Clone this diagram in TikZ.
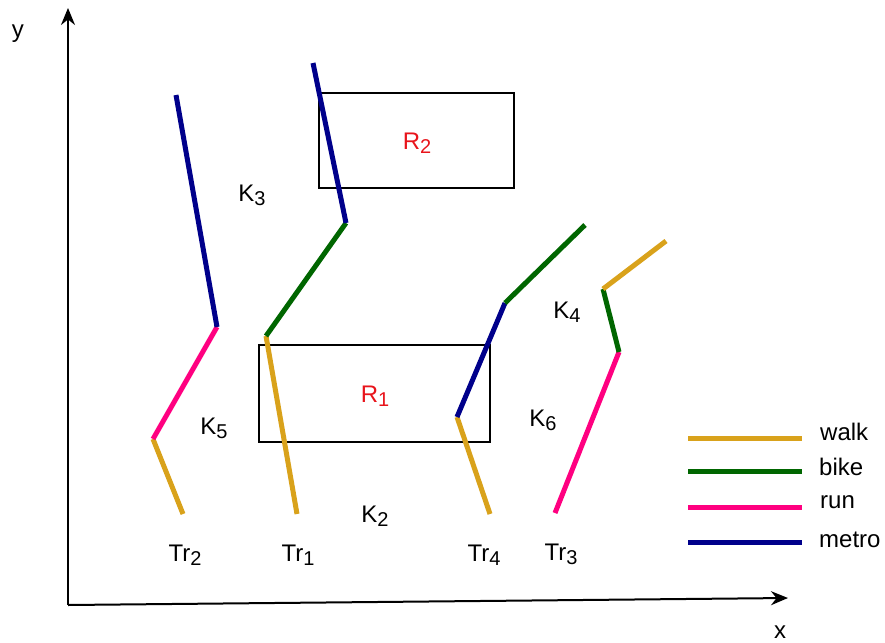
\documentclass[tikz,border=0pt]{standalone}
\usepackage{fontspec}
\setmainfont{Liberation Sans}
\usetikzlibrary{arrows.meta}
\definecolor{walkc}{HTML}{D9A21B}
\definecolor{bikec}{HTML}{006600}
\definecolor{runc}{HTML}{FF0080}
\definecolor{metroc}{HTML}{00008B}
\definecolor{regc}{HTML}{E8141B}
\newcommand\sbs[1]{\raisebox{-0.3ex}{\fontsize{20}{20}\selectfont #1}}
\begin{document}
\begin{tikzpicture}[x=1pt,y=-1pt,
  lbl/.style={font=\fontsize{24}{24}\selectfont, inner sep=0pt, anchor=center},
  seg/.style={line width=5pt},
  walk/.style={seg, walkc},
  bike/.style={seg, bikec},
  run/.style={seg, runc},
  metro/.style={seg, metroc},
  region/.style={draw=black, line width=2.5pt},
  axis/.style={line width=2pt, -{Stealth[length=17pt,width=14pt]}}]
\useasboundingbox (0,0) rectangle (885,642);
% axes
\coordinate (O) at (68,605);
\coordinate (Ytip) at (68,8);
\coordinate (Xtip) at (788,598);
\draw[axis] (O) -- (Ytip);
\draw[axis] (O) -- (Xtip);
\node[lbl] (ylab) at (18,34) {y};
\node[lbl] (xlab) at (780,632) {x};
% regions
\draw[region] (259,345) rectangle (490,442);
\draw[region] (319,93) rectangle (514,188);
% Tr2
\coordinate (a1) at (183,514);
\coordinate (a2) at (153,439);
\coordinate (a3) at (217,327);
\coordinate (a4) at (176,95);
\draw[walk] (a1) -- (a2);
\draw[run] (a2) -- (a3);
\draw[metro] (a3) -- (a4);
% Tr1
\coordinate (b1) at (297,514);
\coordinate (b2) at (266,336);
\coordinate (b3) at (346,223);
\coordinate (b4) at (313,63);
\draw[walk] (b1) -- (b2);
\draw[bike] (b2) -- (b3);
\draw[metro] (b3) -- (b4);
% Tr4
\coordinate (c1) at (490,514);
\coordinate (c2) at (457,417);
\coordinate (c3) at (505,303);
\coordinate (c4) at (585,225);
\draw[walk] (c1) -- (c2);
\draw[metro] (c2) -- (c3);
\draw[bike] (c3) -- (c4);
% Tr3
\coordinate (d1) at (555,513);
\coordinate (d2) at (619,352);
\coordinate (d3) at (603,289);
\coordinate (d4) at (666,241);
\draw[run] (d1) -- (d2);
\draw[bike] (d2) -- (d3);
\draw[walk] (d3) -- (d4);
% labels
\node[lbl, text=regc] (R1) at (375,396) {R\sbs{1}};
\node[lbl, text=regc] (R2) at (417,143) {R\sbs{2}};
\node[lbl] (K2) at (375,516) {K\sbs{2}};
\node[lbl] (K3) at (252,195) {K\sbs{3}};
\node[lbl] (K4) at (567,312) {K\sbs{4}};
\node[lbl] (K5) at (214,428) {K\sbs{5}};
\node[lbl] (K6) at (543,420) {K\sbs{6}};
\node[lbl] (T2) at (185,555) {Tr\sbs{2}};
\node[lbl] (T1) at (298,555) {Tr\sbs{1}};
\node[lbl] (T4) at (484,555) {Tr\sbs{4}};
\node[lbl] (T3) at (561,554) {Tr\sbs{3}};
% legend
\coordinate (l1a) at (688,438); \coordinate (l1b) at (802,438);
\coordinate (l2a) at (688,471); \coordinate (l2b) at (802,471);
\coordinate (l3a) at (688,507); \coordinate (l3b) at (802,507);
\coordinate (l4a) at (688,542); \coordinate (l4b) at (802,542);
\draw[walk] (l1a) -- (l1b);
\draw[bike] (l2a) -- (l2b);
\draw[run] (l3a) -- (l3b);
\draw[metro] (l4a) -- (l4b);
\node[lbl, anchor=west] (Lw) at (820,432) {walk};
\node[lbl, anchor=west] (Lb) at (819,467) {bike};
\node[lbl, anchor=west] (Lr) at (820,502) {run};
\node[lbl, anchor=west] (Lm) at (819,540) {metro};
\end{tikzpicture}
\end{document}
